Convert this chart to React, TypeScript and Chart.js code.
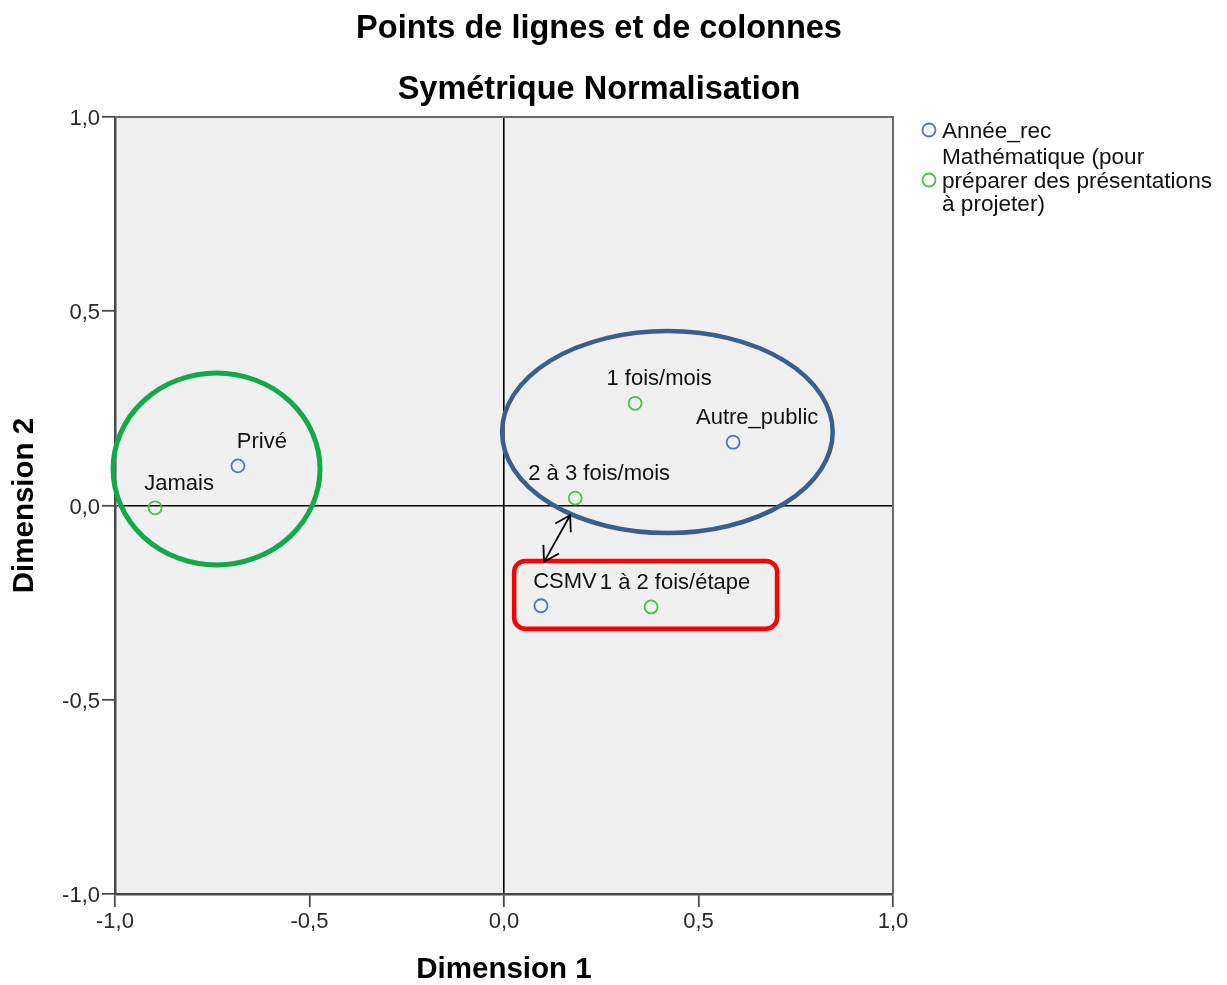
import React, { useEffect, useRef } from "react";
import { Chart, registerables } from "chart.js";

Chart.register(...registerables);

// ---- data ----
const titleLines = ["Points de lignes et de colonnes", "Symétrique Normalisation"];
const xAxisTitle = "Dimension 1";
const yAxisTitle = "Dimension 2";

const rowName = "Année_rec";
const rowLabels = ["Privé", "CSMV", "Autre_public"];
const rowX = [-0.684, 0.095, 0.589];
const rowY = [0.102, -0.258, 0.163];

const colNameLines = ["Mathématique (pour", "préparer des présentations", "à projeter)"];
const colLabels = ["Jamais", "1 à 2 fois/étape", "2 à 3 fois/mois", "1 fois/mois"];
const colX = [-0.897, 0.378, 0.183, 0.337];
const colY = [-0.006, -0.261, 0.019, 0.263];

const axisTicks = [-1, -0.5, 0, 0.5, 1];

// annotation shapes (data units)
const greenEllipse = { cx: -0.739, cy: 0.094, rx: 0.266, ry: 0.247 };
const blueEllipse = { cx: 0.42, cy: 0.189, rx: 0.425, ry: 0.26 };
const redBox = { x1: 0.026, x2: 0.702, y1: -0.143, y2: -0.317 };
const arrowEnds = { x1: 0.17, y1: -0.025, x2: 0.103, y2: -0.145 };

// ---- styles ----
const FONT = '"Liberation Sans", Arial, Helvetica, sans-serif';
const BLUE = "#5a6ec8";
const GREEN = "#4cbf4c";
const W = 1227;
const H = 985;

function fmt(v: number) {
  const s = Math.abs(v) < 1e-9 ? "0,0" : v.toFixed(1).replace(".", ",");
  return s;
}

const overlay = {
  id: "overlay",
  beforeDraw(chart: any) {
    const { ctx, chartArea: a } = chart;
    ctx.save();
    ctx.fillStyle = "#ffffff";
    ctx.fillRect(0, 0, chart.width, chart.height);
    ctx.fillStyle = "#f0f0f0";
    ctx.fillRect(a.left, a.top, a.right - a.left, a.bottom - a.top);
    ctx.restore();
  },
  afterDraw(chart: any) {
    const { ctx, chartArea: a } = chart;
    const xs = chart.scales.x;
    const ys = chart.scales.y;
    ctx.save();

    // top / right frame
    ctx.strokeStyle = "#6a6a6a";
    ctx.lineWidth = 2;
    ctx.beginPath();
    ctx.moveTo(a.left, a.top);
    ctx.lineTo(a.right, a.top);
    ctx.lineTo(a.right, a.bottom);
    ctx.stroke();

    // point labels
    ctx.fillStyle = "#111";
    ctx.font = `22px ${FONT}`;
    ctx.textAlign = "center";
    ctx.textBaseline = "middle";
    const labelSets = [rowLabels, colLabels];
    chart.data.datasets.forEach((_: any, di: number) => {
      const meta = chart.getDatasetMeta(di);
      meta.data.forEach((pt: any, i: number) => {
        ctx.fillText(labelSets[di][i], pt.x + 24, pt.y - 24);
      });
    });

    // ellipses
    const drawEllipse = (e: any, color: string, lw: number) => {
      const cx = xs.getPixelForValue(e.cx);
      const cy = ys.getPixelForValue(e.cy);
      const rx = Math.abs(xs.getPixelForValue(e.cx + e.rx) - cx);
      const ry = Math.abs(ys.getPixelForValue(e.cy + e.ry) - cy);
      ctx.strokeStyle = color;
      ctx.lineWidth = lw;
      ctx.beginPath();
      ctx.ellipse(cx, cy, rx, ry, 0, 0, Math.PI * 2);
      ctx.stroke();
    };
    drawEllipse(greenEllipse, "#12a94a", 5);
    drawEllipse(blueEllipse, "#3b5e8e", 4.5);

    // red rounded box
    {
      const x1 = xs.getPixelForValue(redBox.x1);
      const x2 = xs.getPixelForValue(redBox.x2);
      const y1 = ys.getPixelForValue(redBox.y1);
      const y2 = ys.getPixelForValue(redBox.y2);
      ctx.strokeStyle = "#ff0000";
      ctx.lineWidth = 4.5;
      ctx.beginPath();
      (ctx as any).roundRect(x1, y1, x2 - x1, y2 - y1, 11);
      ctx.stroke();
    }

    // double arrow
    {
      const p1x = xs.getPixelForValue(arrowEnds.x1);
      const p1y = ys.getPixelForValue(arrowEnds.y1);
      const p2x = xs.getPixelForValue(arrowEnds.x2);
      const p2y = ys.getPixelForValue(arrowEnds.y2);
      ctx.strokeStyle = "#000";
      ctx.lineWidth = 1.8;
      ctx.beginPath();
      ctx.moveTo(p1x, p1y);
      ctx.lineTo(p2x, p2y);
      ctx.stroke();
      const head = (tx: number, ty: number, fx: number, fy: number) => {
        const ang = Math.atan2(ty - fy, tx - fx);
        const L = 17;
        const sp = 0.55;
        ctx.beginPath();
        ctx.moveTo(tx - L * Math.cos(ang - sp), ty - L * Math.sin(ang - sp));
        ctx.lineTo(tx, ty);
        ctx.lineTo(tx - L * Math.cos(ang + sp), ty - L * Math.sin(ang + sp));
        ctx.stroke();
      };
      head(p1x, p1y, p2x, p2y);
      head(p2x, p2y, p1x, p1y);
    }

    // titles
    ctx.fillStyle = "#000";
    ctx.textAlign = "center";
    ctx.textBaseline = "middle";
    ctx.font = `bold 32.5px ${FONT}`;
    ctx.fillText(titleLines[0], 599, 29);
    ctx.fillText(titleLines[1], 599, 90);

    // axis titles
    ctx.font = `bold 29.5px ${FONT}`;
    ctx.fillText(xAxisTitle, (a.left + a.right) / 2, 970);
    ctx.save();
    ctx.translate(25, (a.top + a.bottom) / 2);
    ctx.rotate(-Math.PI / 2);
    ctx.fillText(yAxisTitle, 0, 0);
    ctx.restore();

    // legend
    ctx.lineWidth = 1.8;
    ctx.strokeStyle = BLUE;
    ctx.beginPath();
    ctx.arc(929, 130, 6.5, 0, Math.PI * 2);
    ctx.stroke();
    ctx.strokeStyle = GREEN;
    ctx.beginPath();
    ctx.arc(929, 180, 6.5, 0, Math.PI * 2);
    ctx.stroke();
    ctx.fillStyle = "#111";
    ctx.textAlign = "left";
    ctx.font = `22.6px ${FONT}`;
    ctx.fillText(rowName, 942, 132);
    colNameLines.forEach((l, i) => ctx.fillText(l, 942, 158 + i * 23.5));

    ctx.restore();
  },
};

export default function App() {
  const ref = useRef<HTMLCanvasElement | null>(null);
  useEffect(() => {
    document.body.style.margin = "0";
    const canvas = ref.current!;
    const mk = (xs: number[], ys: number[]) => xs.map((x, i) => ({ x, y: ys[i] }));
    const tickCfg = {
      min: -1,
      max: 1,
      afterBuildTicks: (s: any) => {
        s.ticks = axisTicks.map((v) => ({ value: v }));
      },
    };
    const gridCfg = {
      drawOnChartArea: true,
      color: (c: any) => (c.tick && Math.abs(c.tick.value) < 1e-9 ? "#000" : "rgba(0,0,0,0)"),
      lineWidth: 1.6,
      tickColor: "#4a4a4a",
      tickLength: 13,
      tickWidth: 1.8,
    };
    const chart = new Chart(canvas, {
      type: "scatter",
      data: {
        datasets: [
          {
            label: rowName,
            data: mk(rowX, rowY),
            borderColor: BLUE,
            backgroundColor: "rgba(0,0,0,0)",
            pointRadius: 6.5,
            pointBorderWidth: 1.8,
          },
          {
            label: colNameLines.join(" "),
            data: mk(colX, colY),
            borderColor: GREEN,
            backgroundColor: "rgba(0,0,0,0)",
            pointRadius: 6.5,
            pointBorderWidth: 1.8,
          },
        ],
      },
      options: {
        animation: false,
        responsive: false,
        devicePixelRatio: 1,
        layout: { padding: { left: 0, top: 117, right: W - 893, bottom: 0 } },
        plugins: {
          legend: { display: false },
          title: { display: false },
          tooltip: { enabled: false },
        },
        scales: {
          x: {
            type: "linear",
            position: "bottom",
            ...tickCfg,
            afterFit: (s: any) => {
              s.height = H - 894;
            },
            border: { display: true, color: "#4a4a4a", width: 2.5 },
            grid: gridCfg,
            ticks: {
              callback: (v: any) => fmt(Number(v)),
              font: { family: FONT, size: 22 },
              color: "#2a2a2a",
              padding: 2,
              maxRotation: 0,
            },
          },
          y: {
            type: "linear",
            position: "left",
            ...tickCfg,
            afterFit: (s: any) => {
              s.width = 115;
            },
            border: { display: true, color: "#4a4a4a", width: 2.5 },
            grid: gridCfg,
            ticks: {
              callback: (v: any) => fmt(Number(v)),
              font: { family: FONT, size: 22 },
              color: "#2a2a2a",
              padding: 2,
              labelOffset: 2,
            },
          },
        },
      },
      plugins: [overlay],
    } as any);
    return () => chart.destroy();
  }, []);
  return (
    <div style={{ width: W, height: H, position: "relative" }}>
      <canvas ref={ref} width={W} height={H} style={{ display: "block", width: W, height: H }} />
    </div>
  );
}
